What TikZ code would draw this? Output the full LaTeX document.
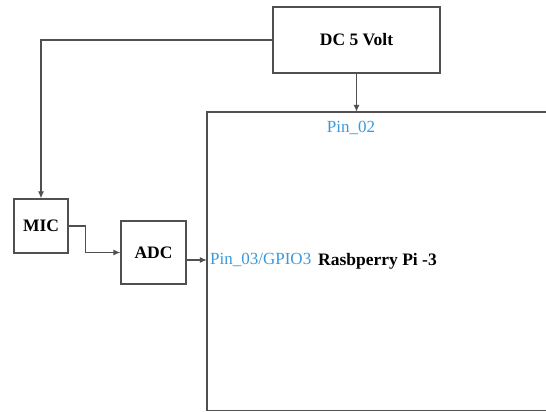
\documentclass[tikz,border=0pt]{standalone}
\usepackage{fontspec}
\setmainfont{Liberation Serif}
\usetikzlibrary{arrows.meta}
\definecolor{pinblue}{HTML}{3A9AD9}
\definecolor{linegray}{HTML}{505050}
\tikzset{
  blk/.style={draw=linegray, line width=1.3pt, minimum width=#1, inner sep=0pt, font=\fontsize{17.5}{20}\selectfont\bfseries},
  conn/.style={draw=linegray, line width=1.1pt},
  arr/.style={conn, -{Latex[length=7pt,width=6pt]}},
  pinlbl/.style={text=pinblue, inner sep=0pt, font=\fontsize{17}{20}\selectfont},
}
\begin{document}
\begin{tikzpicture}[x=1pt,y=-1pt]
\useasboundingbox (0,0) rectangle (546,412);
\node[blk=167pt, minimum height=66pt] (dc) at (356.5,40) {DC 5 Volt};
\node[blk=54pt, minimum height=54pt] (mic) at (41,226) {MIC};
\node[blk=65pt, minimum height=63pt] (adc) at (153.5,252.5) {ADC};
\node[minimum width=339pt, minimum height=298pt, inner sep=0pt] (pi) at (376.5,261) {};
\draw[draw=linegray, line width=1.4pt] (pi.north east) -- (pi.north west) -- (pi.south west) -- (pi.south east);
\node[pinlbl] (pin02) at (351,128) {Pin\_02};
\node[pinlbl, anchor=west] (pin03) at (210,260) {Pin\_03/GPIO3};
\node[anchor=west, inner sep=0pt, font=\fontsize{17.5}{20}\selectfont\bfseries] (pitxt) at (318,261) {Rasbperry Pi -3};
\draw[arr] (dc.west) -| (mic.north);
\draw[arr] (dc.south) -- (dc.south |- pi.north);
\draw[arr] (mic.east) -- ++(17,0) |- (adc.west);
\draw[arr] (adc.east |- pin03.west) -- (pi.west |- pin03.west);
\end{tikzpicture}
\end{document}
